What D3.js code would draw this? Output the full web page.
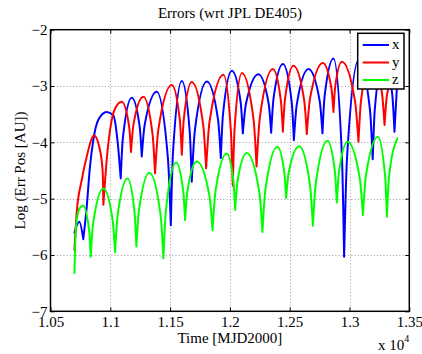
<!DOCTYPE html>
<html>
<head>
<meta charset="utf-8">
<script src="https://cdn.jsdelivr.net/npm/d3@7"></script>
<style>
  body { margin: 0; background: #fff; }
  svg { display: block; }
  text { font-family: "Liberation Serif", "Times New Roman", serif; fill: #000; }
</style>
</head>
<body>
<svg id="chart" width="422" height="354"></svg>
<script>
// Position error components, log10 of |error| in AU, against time [MJD2000]
const errX = [[10700,-5.60],[10741,-5.41],[10774,-5.72],[10803,-5.14],[10830,-4.43],[10858,-3.96],[10900,-3.60],[10970,-3.46],[11025,-3.52],[11064,-4.05],[11087,-4.64],[11105,-3.93],[11179,-3.21],[11246,-3.73],[11263,-4.25],[11288,-3.68],[11388,-3.10],[11482,-4.29],[11506,-5.47],[11524,-4.19],[11598,-2.91],[11664,-3.81],[11681,-4.70],[11706,-3.81],[11807,-2.92],[11901,-3.60],[11924,-4.28],[11942,-3.51],[12016,-2.73],[12090,-3.29],[12108,-3.84],[12134,-3.32],[12238,-2.79],[12324,-3.31],[12345,-3.83],[12365,-3.22],[12443,-2.61],[12517,-3.29],[12535,-3.96],[12559,-3.33],[12657,-2.70],[12751,-3.27],[12774,-3.84],[12792,-3.18],[12866,-2.51],[12937,-4.27],[12955,-6.03],[12979,-4.29],[13077,-2.54],[13171,-3.42],[13194,-4.30],[13212,-3.40],[13286,-2.50],[13358,-3.16],[13376,-3.81],[13400,-2.89]];

const errY = [[10700,-5.91],[10719,-5.25],[10761,-4.67],[10803,-4.25],[10864,-3.88],[10914,-4.14],[10937,-4.55],[10942,-5.11],[10970,-4.31],[10998,-3.78],[11040,-3.40],[11096,-3.28],[11158,-3.73],[11173,-4.17],[11194,-3.68],[11276,-3.19],[11354,-3.87],[11374,-4.55],[11402,-3.77],[11514,-2.98],[11581,-3.60],[11598,-4.22],[11615,-3.58],[11681,-2.93],[11777,-3.70],[11801,-4.46],[11830,-3.63],[11946,-2.80],[12008,-3.79],[12024,-4.77],[12039,-3.77],[12100,-2.77],[12198,-3.60],[12223,-4.43],[12250,-3.57],[12359,-2.70],[12426,-3.26],[12443,-3.81],[12461,-3.23],[12531,-2.64],[12621,-3.25],[12643,-3.85],[12670,-3.22],[12777,-2.59],[12848,-3.03],[12866,-3.46],[12880,-3.02],[12936,-2.57],[13047,-3.28],[13075,-3.99],[13096,-3.27],[13181,-2.54],[13271,-3.12],[13293,-3.69],[13314,-3.15],[13400,-2.65]];

const errZ = [[10700,-6.32],[10713,-5.50],[10741,-5.18],[10772,-5.12],[10824,-5.58],[10836,-6.03],[10857,-5.43],[10942,-4.82],[11020,-5.39],[11040,-5.95],[11061,-5.30],[11144,-4.64],[11203,-5.25],[11218,-5.85],[11240,-5.20],[11327,-4.54],[11421,-5.30],[11444,-6.06],[11465,-5.21],[11550,-4.36],[11610,-4.87],[11625,-5.38],[11645,-4.86],[11723,-4.34],[11829,-4.95],[11855,-5.56],[11879,-4.88],[11974,-4.20],[12030,-4.70],[12044,-5.20],[12063,-4.70],[12141,-4.19],[12246,-4.89],[12272,-5.59],[12297,-4.84],[12397,-4.08],[12455,-4.54],[12470,-4.99],[12492,-4.53],[12579,-4.07],[12671,-4.78],[12694,-5.48],[12718,-4.73],[12816,-3.97],[12878,-4.52],[12894,-5.07],[12912,-4.53],[12983,-3.99],[13086,-4.64],[13112,-5.29],[13137,-4.60],[13237,-3.90],[13298,-4.61],[13313,-5.32],[13330,-4.62],[13400,-3.93]];

const seriesNames = ["x", "y", "z"];
const seriesColors = ["#0000ff", "#ff0000", "#00ff00"];
const xTicks = [10500, 11000, 11500, 12000, 12500, 13000, 13500];
const xTickLabels = ["1.05", "1.1", "1.15", "1.2", "1.25", "1.3", "1.35"];
const yTicks = [-7, -6, -5, -4, -3, -2];

const svg = d3.select("#chart");
const L = 50.5, R = 409.3, T = 29.7, B = 311.3;

const x = d3.scaleLinear().domain([10500, 13500]).range([L, R]);
const y = d3.scaleLinear().domain([-7, -2]).range([B, T]);

// dotted grid
const grid = svg.append("g").attr("stroke", "#9a9a9a").attr("stroke-width", 1).attr("stroke-dasharray", "1,2.2");
grid.selectAll("line.gx").data(xTicks.slice(1, -1)).join("line")
  .attr("x1", d => Math.round(x(d)) + 0.5).attr("x2", d => Math.round(x(d)) + 0.5)
  .attr("y1", T).attr("y2", B);
grid.selectAll("line.gy").data(yTicks.slice(1, -1)).join("line")
  .attr("y1", d => Math.round(y(d)) + 0.5).attr("y2", d => Math.round(y(d)) + 0.5)
  .attr("x1", L).attr("x2", R);

// split a series at its local minima so each lobe keeps a sharp cusp
function lobes(data) {
  const out = []; let cur = [data[0]];
  for (let i = 1; i < data.length; i++) {
    cur.push(data[i]);
    if (i < data.length - 1 && data[i][1] < data[i - 1][1] && data[i][1] < data[i + 1][1]) {
      out.push(cur); cur = [data[i]];
    }
  }
  out.push(cur);
  return out;
}

const line = d3.line().x(d => x(d[0])).y(d => y(d[1])).curve(d3.curveMonotoneX);
const plot = svg.append("g");
[errX, errY, errZ].forEach((s, i) => {
  plot.append("path")
    .attr("d", lobes(s).map(l => line(l)).join(""))
    .attr("fill", "none")
    .attr("stroke", seriesColors[i])
    .attr("stroke-width", 2)
    .attr("stroke-linejoin", "round")
    .attr("stroke-linecap", "round");
});

// axes with inward ticks
const fmtX = d => xTickLabels[xTicks.indexOf(d)];
const fmtY = d => String(d).replace("-", "\u2212");

const axB = svg.append("g").attr("transform", `translate(0,${B})`)
  .call(d3.axisBottom(x).tickValues(xTicks).tickFormat(fmtX).tickSize(-4).tickPadding(5));
const axT = svg.append("g").attr("transform", `translate(0,${T})`)
  .call(d3.axisTop(x).tickValues(xTicks).tickFormat("").tickSize(-4));
const axL = svg.append("g").attr("transform", `translate(${L},0)`)
  .call(d3.axisLeft(y).tickValues(yTicks).tickFormat(fmtY).tickSize(-4).tickPadding(3));
const axR = svg.append("g").attr("transform", `translate(${R},0)`)
  .call(d3.axisRight(y).tickValues(yTicks).tickFormat("").tickSize(-4));
[axB, axT, axL, axR].forEach(a => {
  a.select(".domain").remove();
  a.selectAll(".tick line").attr("stroke", "#000").attr("stroke-width", 1);
  a.selectAll("text").attr("font-family", null).attr("font-size", 15).attr("fill", "#000");
});

// box
svg.append("rect").attr("x", L).attr("y", T).attr("width", R - L).attr("height", B - T)
  .attr("fill", "none").attr("stroke", "#000").attr("stroke-width", 1.5);

// titles
svg.append("text").attr("x", (L + R) / 2).attr("y", 18).attr("text-anchor", "middle")
  .attr("font-size", 15).text("Errors (wrt JPL DE405)");
svg.append("text").attr("x", (L + R) / 2).attr("y", 343).attr("text-anchor", "middle")
  .attr("font-size", 15).text("Time [MJD2000]");
svg.append("text").attr("transform", `translate(25,${(T + B) / 2}) rotate(-90)`)
  .attr("text-anchor", "middle").attr("font-size", 15).text("Log (Err Pos [AU])");
const mult = svg.append("text").attr("x", 378).attr("y", 350).attr("font-size", 15);
mult.append("tspan").text("x 10");
mult.append("tspan").attr("dy", -8).attr("font-size", 10).text("4");

// legend
const lg = svg.append("g");
lg.append("rect").attr("x", 357.7).attr("y", 33.3).attr("width", 46.3).attr("height", 55.7)
  .attr("fill", "#fff").attr("stroke", "#000").attr("stroke-width", 1.5);
seriesNames.forEach((n, i) => {
  const yy = 45 + i * 17.5;
  lg.append("line").attr("x1", 362.7).attr("x2", 389).attr("y1", yy).attr("y2", yy)
    .attr("stroke", seriesColors[i]).attr("stroke-width", 2);
  lg.append("text").attr("x", 392).attr("y", yy + 4).attr("font-size", 15).text(n);
});
</script>
</body>
</html>
